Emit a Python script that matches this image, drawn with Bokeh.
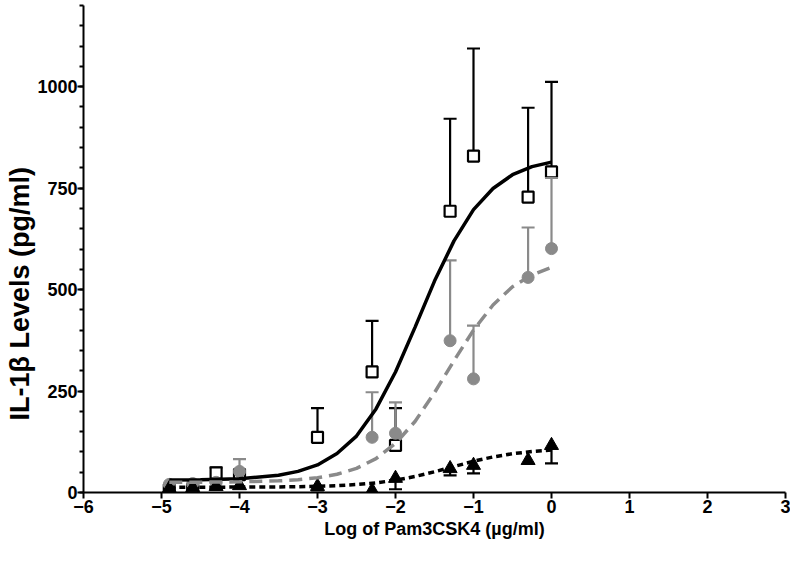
from bokeh.plotting import figure
from bokeh.models import Range1d, FixedTicker, Title
from bokeh.embed import file_html
from bokeh.resources import INLINE

# ---- data ----
log_dose = [-4.9, -4.6, -4.3, -4.0, -3.0, -2.3, -2.0, -1.3, -1.0, -0.3, 0.0]

sq_mean = [6, 8, 48, 44, 136, 297, 116, 693, 829, 728, 790]
sq_upper = [6, 8, 62, 56, 208, 423, 208, 921, 1094, 948, 1012]

ci_mean = [20, 22, 25, 52, 0, 136, 146, 374, 280, 530, 601]
ci_upper = [20, 22, 25, 82, 0, 247, 222, 572, 411, 653, 775]

tr_mean = [10, 12, 15, 17, 15, 5, 35, 59, 67, 79, 116]
tr_lower = [10, 12, 15, 17, 15, 5, 8, 42, 47, 79, 72]

fit_x = [-4.9, -4.5, -4.0, -3.5, -3.25, -3.0, -2.75, -2.5, -2.25, -2.0,
         -1.75, -1.5, -1.25, -1.0, -0.75, -0.5, -0.25, 0.0]
fit_solid = [30.5, 31.3, 34, 42.5, 52, 68, 96, 139, 206, 297,
             407, 521, 620, 697, 749, 783, 803, 814]
fit_dashed = [25.1, 25.4, 26.2, 28.7, 31.4, 36.4, 44.9, 59.5, 83.4, 121,
              175, 246, 325, 400, 462, 507, 536, 555]
fit_dotted = [13.0, 13.1, 13.3, 13.8, 14.3, 15.3, 16.9, 19.6, 23.8, 30.3,
              39.4, 51, 64, 77, 87.6, 95.6, 101, 104.7]

x_ticks = [-6, -5, -4, -3, -2, -1, 0, 1, 2, 3]
y_ticks = [0, 250, 500, 750, 1000]
y_minor = list(range(0, 1201, 50))

x_title = "Log of Pam3CSK4 (µg/ml)"
y_title = "IL-1β Levels (pg/ml)"

GRAY = "#8a8a8a"
FONT = "Liberation Sans"

p = figure(width=790, height=552, output_backend="svg", toolbar_location=None,
           x_range=Range1d(-6, 3), y_range=Range1d(0, 1200),
           min_border_left=83, min_border_right=5, min_border_top=5,
           min_border_bottom=60)
p.outline_line_color = None
p.xgrid.visible = False
p.ygrid.visible = False
p.background_fill_color = "white"

# squares (open) with upper error bars
sel = [i for i in range(len(log_dose)) if sq_upper[i] > sq_mean[i]]
p.segment(x0=[log_dose[i] for i in sel], y0=[sq_mean[i] for i in sel],
          x1=[log_dose[i] for i in sel], y1=[sq_upper[i] for i in sel],
          line_color="black", line_width=2.2)
p.scatter(x=[log_dose[i] for i in sel], y=[sq_upper[i] for i in sel],
          marker="dash", size=13, line_color="black", line_width=2.2)
p.scatter(x=log_dose, y=sq_mean, marker="square", size=11,
          fill_color="white", line_color="black", line_width=2.2)

# gray circles with upper error bars
sel = [i for i in range(len(log_dose)) if ci_upper[i] > ci_mean[i]]
p.segment(x0=[log_dose[i] for i in sel], y0=[ci_mean[i] for i in sel],
          x1=[log_dose[i] for i in sel], y1=[ci_upper[i] for i in sel],
          line_color=GRAY, line_width=2.2)
p.scatter(x=[log_dose[i] for i in sel], y=[ci_upper[i] for i in sel],
          marker="dash", size=13, line_color=GRAY, line_width=2.2)
p.scatter(x=log_dose, y=ci_mean, marker="circle", size=12,
          fill_color=GRAY, line_color=GRAY)

# triangles with lower error bars
sel = [i for i in range(len(log_dose)) if tr_lower[i] < tr_mean[i]]
p.segment(x0=[log_dose[i] for i in sel], y0=[tr_mean[i] for i in sel],
          x1=[log_dose[i] for i in sel], y1=[tr_lower[i] for i in sel],
          line_color="black", line_width=2.2)
p.scatter(x=[log_dose[i] for i in sel], y=[tr_lower[i] for i in sel],
          marker="dash", size=13, line_color="black", line_width=2.2)
p.scatter(x=log_dose, y=tr_mean, marker="triangle", size=14,
          fill_color="black", line_color="black")

# fitted curves
p.line(fit_x, fit_solid, line_color="black", line_width=3.5)
p.line(fit_x, fit_dashed, line_color=GRAY, line_width=3.5, line_dash="13 7")
p.line(fit_x, fit_dotted, line_color="black", line_width=3.5, line_dash="6 4")

# axes styling
for ax in (p.xaxis[0], p.yaxis[0]):
    ax.axis_line_width = 2
    ax.axis_line_color = "black"
    ax.major_tick_line_width = 2
    ax.minor_tick_line_width = 2
    ax.major_tick_in = 0
    ax.minor_tick_in = 0
    ax.major_label_text_font = FONT
    ax.major_label_text_font_style = "bold"
    ax.major_label_text_font_size = "18px"
    ax.major_label_text_color = "black"
    ax.axis_label_text_font = FONT
    ax.axis_label_text_font_style = "bold"
    ax.axis_label_text_font_size = "18px"
    ax.axis_label_text_color = "black"

p.xaxis.ticker = FixedTicker(ticks=x_ticks, minor_ticks=[])
p.xaxis.major_tick_out = 6
p.xaxis.minor_tick_out = 0
p.xaxis.major_label_standoff = 1
p.xaxis.axis_label = x_title
p.xaxis.axis_label_standoff = 3

p.yaxis.ticker = FixedTicker(ticks=y_ticks, minor_ticks=y_minor)
p.yaxis.major_tick_out = 6
p.yaxis.minor_tick_out = 4
p.yaxis.major_label_standoff = 0

# y-axis title as a side-panel title, shifted toward the bottom like the original
p.add_layout(Title(text=y_title, align="left", offset=72, standoff=0,
                   text_font=FONT, text_font_style="bold",
                   text_font_size="27px", text_color="black"), "left")

open("out.html", "w").write(file_html(p, INLINE))
